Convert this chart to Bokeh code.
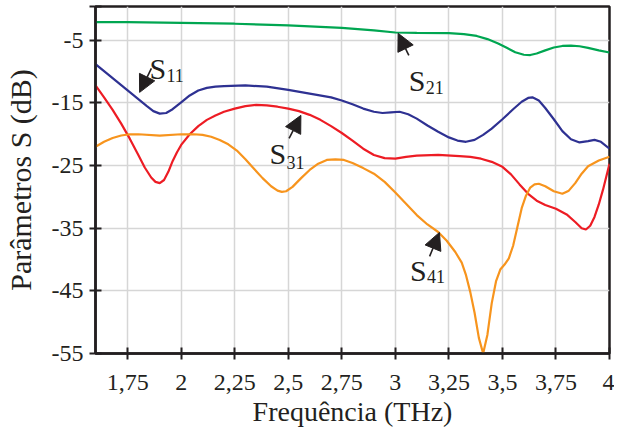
from bokeh.plotting import figure
from bokeh.models import FixedTicker, Range1d, Arrow, NormalHead, Label, CustomJSTickFormatter
from bokeh.embed import file_html
from bokeh.resources import INLINE

# ---- data ----
s21_f = [1.60, 1.75, 2.00, 2.25, 2.50, 2.75, 2.90, 3.00, 3.10, 3.25, 3.32, 3.38, 3.43, 3.48, 3.52,
         3.56, 3.60, 3.63, 3.66, 3.70, 3.74, 3.78, 3.82, 3.86, 3.90, 3.95, 4.00]
s21_db = [-2.1, -2.1, -2.2, -2.35, -2.6, -3.0, -3.4, -3.75, -3.8, -3.85, -4.0, -4.3, -4.8, -5.5, -6.2,
          -6.9, -7.3, -7.35, -7.1, -6.6, -6.15, -5.9, -5.85, -5.95, -6.2, -6.6, -6.95]

s11_f = [1.60, 1.65, 1.70, 1.75, 1.80, 1.84, 1.87, 1.90, 1.93, 1.96, 2.00, 2.04, 2.08, 2.12, 2.16,
         2.20, 2.30, 2.40, 2.50, 2.60, 2.70, 2.75, 2.80, 2.85, 2.90, 2.94, 2.98, 3.02, 3.06, 3.10,
         3.15, 3.20, 3.25, 3.29, 3.33, 3.37, 3.41, 3.45, 3.50, 3.55, 3.59, 3.62, 3.64, 3.67, 3.70,
         3.74, 3.78, 3.82, 3.86, 3.90, 3.93, 3.96, 4.00]
s11_db = [-8.8, -10.2, -11.6, -13.0, -14.4, -15.5, -16.3, -16.7, -16.6, -16.0, -14.9, -13.8, -13.0, -12.6, -12.4,
          -12.3, -12.2, -12.4, -12.9, -13.5, -14.1, -14.6, -15.2, -15.9, -16.4, -16.6, -16.5, -16.4, -16.8, -17.5,
          -18.6, -19.6, -20.5, -21.0, -21.2, -20.9, -20.1, -19.1, -17.6, -16.0, -14.8, -14.2, -14.1, -14.6, -15.8,
          -17.6, -19.5, -20.8, -21.3, -21.1, -20.9, -21.2, -22.3]

s31_f = [1.60, 1.64, 1.68, 1.72, 1.76, 1.80, 1.83, 1.86, 1.88, 1.90, 1.92, 1.94, 1.96, 1.98, 2.00,
         2.04, 2.08, 2.12, 2.16, 2.20, 2.25, 2.30, 2.35, 2.40, 2.45, 2.50, 2.55, 2.60, 2.65, 2.70,
         2.75, 2.80, 2.85, 2.90, 2.95, 3.00, 3.05, 3.10, 3.20, 3.30, 3.35, 3.40, 3.45, 3.50, 3.54,
         3.58, 3.62, 3.66, 3.70, 3.75, 3.80, 3.84, 3.87, 3.89, 3.91, 3.93, 3.95, 3.97, 4.00]
s31_db = [-12.2, -14.1, -16.1, -18.3, -20.7, -23.3, -25.3, -26.9, -27.6, -27.8, -27.3, -26.0, -24.3, -22.9, -21.7,
          -20.0, -18.7, -17.7, -17.0, -16.4, -15.9, -15.5, -15.3, -15.4, -15.6, -15.9, -16.3, -16.9, -17.7, -18.7,
          -19.8, -21.0, -22.3, -23.3, -23.8, -23.9, -23.6, -23.4, -23.3, -23.5, -23.6, -23.9, -24.4, -25.2, -26.4,
          -28.0, -29.5, -30.6, -31.3, -31.9, -32.8, -34.0, -35.0, -35.2, -34.6, -33.2, -31.2, -28.8, -24.7]

s41_f = [1.60, 1.64, 1.68, 1.72, 1.76, 1.80, 1.90, 2.00, 2.06, 2.10, 2.14, 2.18, 2.22, 2.26, 2.30,
         2.34, 2.38, 2.42, 2.45, 2.47, 2.49, 2.52, 2.56, 2.60, 2.64, 2.68, 2.72, 2.76, 2.80, 2.85,
         2.90, 2.95, 3.00, 3.05, 3.10, 3.15, 3.20, 3.24, 3.28, 3.31, 3.33, 3.35, 3.37, 3.39, 3.41,
         3.43, 3.45, 3.47, 3.49, 3.51, 3.53, 3.55, 3.57, 3.59, 3.61, 3.63, 3.65, 3.67, 3.70, 3.74,
         3.78, 3.81, 3.84, 3.87, 3.90, 3.95, 4.00]
s41_db = [-22.0, -21.2, -20.6, -20.2, -20.0, -20.0, -20.2, -20.0, -20.0, -20.1, -20.4, -20.9, -21.6, -22.6, -24.0,
          -25.5, -27.0, -28.3, -29.0, -29.2, -29.1, -28.4, -27.0, -25.7, -24.7, -24.1, -24.0, -24.1, -24.6, -25.4,
          -26.3, -27.6, -29.3, -31.1, -32.9, -34.4, -35.6, -37.0, -38.8, -40.5, -42.5, -45.2, -48.5, -52.5, -55.0,
          -52.0, -47.0, -43.5, -41.6, -40.8, -39.8, -37.8, -34.8, -31.8, -29.8, -28.5, -28.0, -27.9, -28.3, -29.1,
          -29.5, -29.0, -27.8, -26.3, -25.1, -24.2, -23.6]

x_ticks = [1.75, 2.0, 2.25, 2.5, 2.75, 3.0, 3.25, 3.5, 3.75, 4.0]
y_ticks = [-55, -45, -35, -25, -15, -5, 0.4]

INK = "#231f20"
FONT = "Liberation Serif"

p = figure(frame_width=514, frame_height=347,
           min_border_left=90, min_border_right=5, min_border_top=6, min_border_bottom=75,
           x_range=Range1d(1.6, 4.0), y_range=Range1d(-55, 0.4),
           output_backend="svg", toolbar_location=None)

p.background_fill_color = "white"
p.border_fill_color = "white"
p.outline_line_color = INK
p.outline_line_width = 2.5
p.outline_line_alpha = 1.0

p.xaxis.ticker = FixedTicker(ticks=x_ticks)
p.yaxis.ticker = FixedTicker(ticks=y_ticks)
p.xaxis.formatter = CustomJSTickFormatter(code="return tick.toString().replace('.', ',');")
p.yaxis.formatter = CustomJSTickFormatter(code="return tick > 0 ? '' : tick.toString();")

for ax in (p.xaxis, p.yaxis):
    ax.axis_line_color = INK
    ax.axis_line_width = 2.5
    ax.major_tick_line_color = INK
    ax.major_tick_line_width = 2
    ax.major_tick_in = 6
    ax.major_tick_out = 6
    ax.minor_tick_line_color = None
    ax.major_label_text_font = FONT
    ax.major_label_text_font_size = "24px"
    ax.major_label_text_color = INK
    ax.axis_label_text_font = FONT
    ax.axis_label_text_font_style = "normal"
    ax.axis_label_text_color = INK

p.xaxis.major_label_standoff = 15
p.yaxis.major_label_standoff = 6
p.xaxis.axis_label = "Frequência (THz)"
p.xaxis.axis_label_text_font_size = "28px"
p.xaxis.axis_label_standoff = 3
p.yaxis.axis_label = "Parâmetros S (dB)"
p.yaxis.axis_label_text_font_size = "30px"
p.yaxis.axis_label_standoff = 12

for g in (p.xgrid, p.ygrid):
    g.grid_line_color = "#d6d6d6"
    g.grid_line_width = 1.5

p.line(s21_f, s21_db, line_color="#00a651", line_width=2.2)
p.line(s11_f, s11_db, line_color="#2e3192", line_width=2.2)
p.line(s31_f, s31_db, line_color="#ed1c24", line_width=2.2)
p.line(s41_f, s41_db, line_color="#f7941d", line_width=2.2)

# annotations: (tail x, tail y, tip x, tip y, label x, label y, subscript, sub drop px)
notes = [
    (1.861, -9.47, 1.806, -13.31, 1.852, -9.47, "11", 7),
    (3.063, -7.40, 3.013, -3.88, 3.063, -11.39, "21", 7),
    (2.504, -20.65, 2.559, -16.98, 2.412, -23.05, "31", 9),
    (3.160, -39.5, 3.206, -35.67, 3.068, -41.74, "41", 6),
]
for xs, ys, xe, ye, lx, ly, sub, drop in notes:
    p.add_layout(Arrow(end=NormalHead(size=17, fill_color=INK, line_color=INK, line_width=1),
                       x_start=xs, y_start=ys, x_end=xe, y_end=ye,
                       line_color=INK, line_width=1.6))
    p.add_layout(Label(x=lx, y=ly, text="S", text_font=FONT, text_font_size="30px",
                       text_color=INK, text_baseline="alphabetic", text_align="left"))
    p.add_layout(Label(x=lx, y=ly, x_offset=17, y_offset=-drop, text=sub, text_font=FONT,
                       text_font_size="18px", text_color=INK,
                       text_baseline="alphabetic", text_align="left"))

open("out.html", "w").write(file_html(p, INLINE))
